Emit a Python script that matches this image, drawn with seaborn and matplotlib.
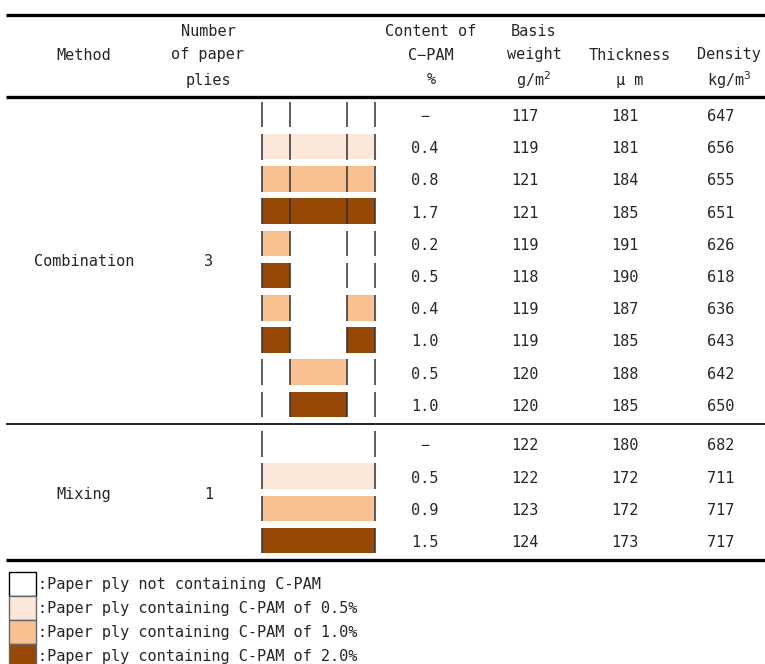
import matplotlib
matplotlib.use('Agg')
import matplotlib.pyplot as plt
import pandas as pd
import seaborn as sns


METHODS = ['Combination', 'Mixing']
N_PLIES = [3, 1]
# C-PAM level of each ply per row: 0 none, 1 = 0.5 %, 2 = 1.0 %, 3 = 2.0 %
PATTERN_COMBINATION = [[0, 0, 0], [1, 1, 1], [2, 2, 2], [3, 3, 3],
                       [2, 0, 0], [3, 0, 0], [2, 0, 2], [3, 0, 3],
                       [0, 2, 0], [0, 3, 0]]
PATTERN_MIXING = [[0], [1], [2], [3]]
CPAM_CONTENT = ['\u2212', '0.4', '0.8', '1.7', '0.2', '0.5', '0.4', '1.0',
                '0.5', '1.0', '\u2212', '0.5', '0.9', '1.5']
BASIS_WEIGHT = [117, 119, 121, 121, 119, 118, 119, 119, 120, 120,
                122, 122, 123, 124]
THICKNESS = [181, 181, 184, 185, 191, 190, 187, 185, 188, 185,
             180, 172, 172, 173]
DENSITY = [647, 656, 655, 651, 626, 618, 636, 643, 642, 650,
           682, 711, 717, 717]
LEGEND_LABELS = [':Paper ply not containing C-PAM',
                 ':Paper ply containing C-PAM of 0.5%',
                 ':Paper ply containing C-PAM of 1.0%',
                 ':Paper ply containing C-PAM of 2.0%']

COLORS = sns.color_palette(['#ffffff', '#fbe8da', '#f9c192', '#984806'])

# layout (pixel units, figure is 765 x 664)
W, H = 765, 664
FIRST_ROW = [114.5, 444.0]
PITCH = 32.2
BAR_H = 25.6
PLY_EDGES = {3: [262, 290, 347, 375], 1: [262, 375]}
COL_X = {'method': 84, 'plies': 209, 'content': 425, 'basis': 525,
         'thick': 625, 'dens': 721}
FS = 11
INK = '#262626'


def build_rows():
    rows = []
    k = 0
    for g, (method, n, pats) in enumerate(zip(
            METHODS, N_PLIES, [PATTERN_COMBINATION, PATTERN_MIXING])):
        for i, pat in enumerate(pats):
            rows.append(dict(method=method, plies=n, pattern=pat,
                             y=FIRST_ROW[g] + PITCH * i,
                             content=CPAM_CONTENT[k], basis=BASIS_WEIGHT[k],
                             thick=THICKNESS[k], dens=DENSITY[k]))
            k += 1
    return pd.DataFrame(rows)


def draw_plies(ax, df):
    for _, r in df.iterrows():
        edges = PLY_EDGES[r['plies']]
        for j, level in enumerate(r['pattern']):
            ax.barh(r['y'], edges[j + 1] - edges[j], left=edges[j],
                    height=BAR_H, color=COLORS[level], linewidth=0)
        ax.vlines(edges, r['y'] - BAR_H / 2, r['y'] + BAR_H / 2,
                  color='#303030', lw=1.1)


def draw_text(ax, df):
    txt = dict(ha='center', va='center', fontsize=FS, color=INK)
    heads = [('method', ['', 'Method', '']),
             ('plies', ['Number', 'of paper', 'plies']),
             ('content', ['Content of', 'C\u2212PAM', '%']),
             ('basis', ['Basis', 'weight', 'g/m$^2$']),
             ('thick', ['', 'Thickness', '\u03bc m']),
             ('dens', ['', 'Density', 'kg/m$^3$'])]
    hx = dict(COL_X, plies=208, content=431, basis=534, thick=630, dens=729)
    for key, lines in heads:
        for y, s in zip([32, 55, 80], lines):
            ax.text(hx[key], y, s, **txt)
    for col in ['content', 'basis', 'thick', 'dens']:
        for _, r in df.iterrows():
            ax.text(COL_X[col], r['y'] + 2, str(r[col]), **txt)
    for method, g in df.groupby('method', sort=False):
        ymid = (g['y'].min() + g['y'].max()) / 2 + 2
        ax.text(COL_X['method'], ymid, method, **txt)
        ax.text(COL_X['plies'], ymid, str(g['plies'].iloc[0]), **txt)


def draw_rules(ax):
    for y, lw in [(15, 2.4), (97, 2.4), (424, 1.2), (560, 2.4)]:
        ax.hlines(y, 6, W, color='black', lw=lw)


def draw_legend(ax):
    for i, label in enumerate(LEGEND_LABELS):
        y = 584 + 24 * i
        ax.barh(y, 27, left=9, height=24, color=COLORS[i],
                edgecolor='black' if i == 0 else '#666666', linewidth=1.0)
        ax.text(38, y + 1, label, ha='left', va='center', fontsize=FS,
                color=INK)


def main():
    sns.set_theme(style='white')
    plt.rcParams['font.family'] = ['DejaVu Sans Mono']
    plt.rcParams['mathtext.fontset'] = 'dejavusans'
    fig = plt.figure(figsize=(W / 100, H / 100), dpi=100)
    ax = fig.add_axes([0, 0, 1, 1])
    ax.set_xlim(0, W)
    ax.set_ylim(H, 0)
    ax.axis('off')

    df = build_rows()
    draw_rules(ax)
    draw_plies(ax, df)
    draw_text(ax, df)
    draw_legend(ax)
    fig.savefig('out.png', dpi=100)


if __name__ == '__main__':
    main()
